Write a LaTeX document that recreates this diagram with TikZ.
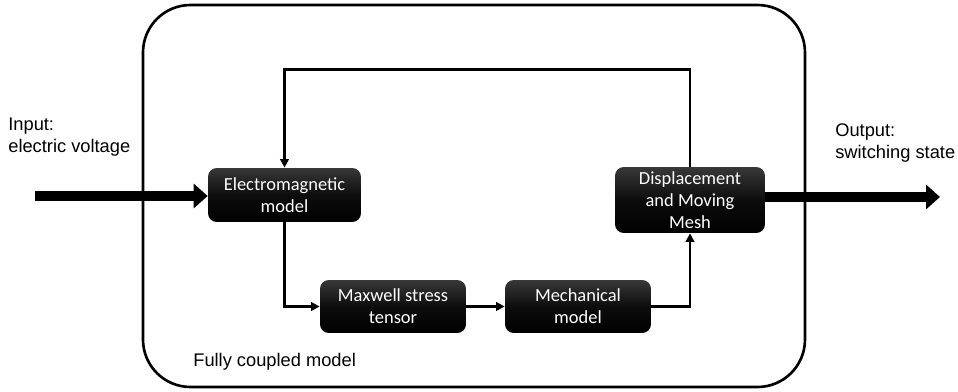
\documentclass[tikz,border=0pt]{standalone}
\usepackage{fontspec}
\setmainfont{Liberation Sans}
\newfontfamily\boxfont{Carlito}
\usetikzlibrary{positioning,arrows.meta}

\begin{document}
\begin{tikzpicture}[
    x=0.02cm, y=-0.02cm,
    blk/.style={rounded corners=5pt, align=center, text=white, inner sep=1pt,
                font=\boxfont\fontsize{10.5}{12.5}\selectfont,
                top color=black!78, bottom color=black, middle color=black!95},
    arr/.style={-{Triangle[length=0.17cm,width=0.17cm]}, line width=1.35pt},
    bigarr/.style={-{Triangle[length=0.28cm,width=0.48cm]}, line width=0.2cm},
    lbl/.style={font=\fontsize{10.4}{12.4}\selectfont, align=left, inner sep=0pt},
  ]
  \useasboundingbox (0,0) rectangle (958,392);

  % --- Container ---
  \draw[line width=1.5pt, rounded corners=0.95cm] (143,5) rectangle (805,387);
  \node[lbl, anchor=base west] (fcm) at (193,366) {Fully coupled model};

  % --- Blocks ---
  \node[blk, minimum width=3.06cm, minimum height=1.08cm] (em)   at (284.5,195) {Electromagnetic\\model};
  \node[blk, minimum width=2.92cm, minimum height=1.06cm] (mst)  at (393,306.5) {Maxwell stress\\tensor};
  \node[blk, minimum width=2.92cm, minimum height=1.06cm] (mech) at (578,306.5) {Mechanical\\model};
  \node[blk, minimum width=3.00cm, minimum height=1.32cm] (disp) at (690,200) {Displacement\\and Moving\\Mesh};

  % --- Input / output ---
  \coordinate (in)  at (35,196);
  \coordinate (out) at (940,197);
  \node[lbl, anchor=base west] (inl)  at (8,152) {Input:\\electric voltage};
  \node[lbl, anchor=base west] (outl) at (835,158) {Output:\\switching state};
  \draw[bigarr] (in) -- (em.west |- in);
  \draw[bigarr] (disp.east |- out) -- (out);

  % --- Internal connectors ---
  \draw[arr] (disp.north) -- ++(0,-97) -| (em.north);
  \draw[arr] (em.south) |- (mst.west);
  \draw[arr] (mst.east) -- (mech.west);
  \draw[arr] (mech.east) -| (disp.south);
\end{tikzpicture}
\end{document}
